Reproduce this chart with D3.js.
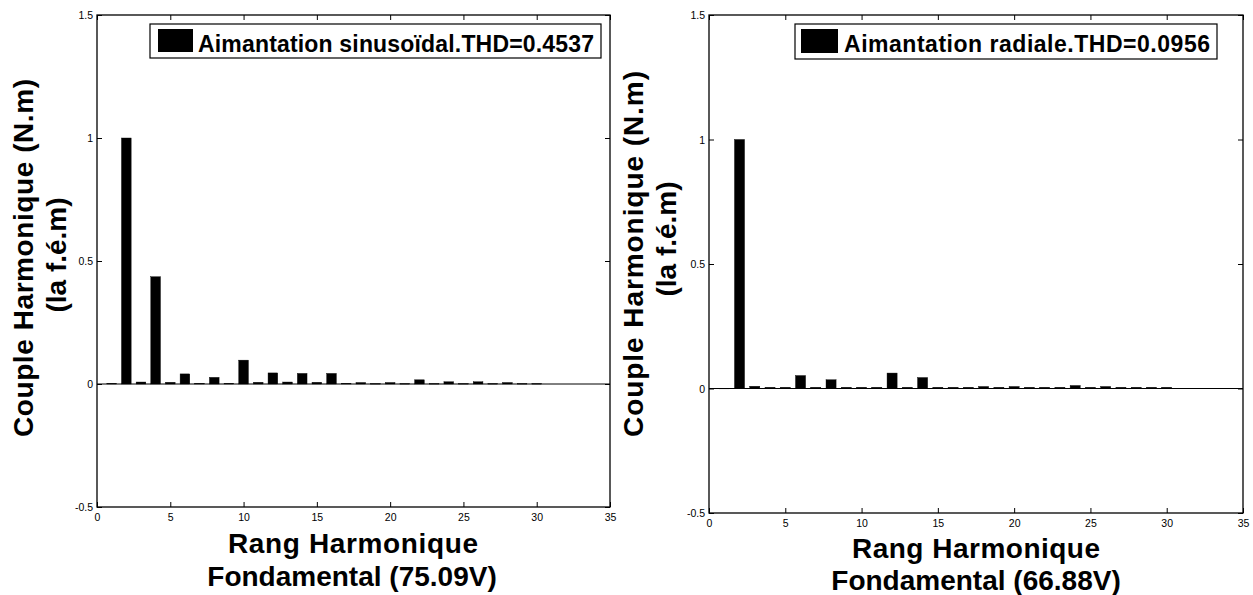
<!DOCTYPE html>
<html><head><meta charset="utf-8">
<script src="https://cdn.jsdelivr.net/npm/d3@7"></script>
<style>
html,body{margin:0;padding:0;background:#fff;}
svg{display:block;}
text{font-family:"Liberation Sans",Arial,Helvetica,sans-serif;fill:#000;}
</style></head>
<body>
<svg id="chart" width="1253" height="595"></svg>
<script>
// ---- data ----
const harmonics = [1,2,3,4,5,6,7,8,9,10,11,12,13,14,15,16,17,18,19,20,21,22,23,24,25,26,27,28,29,30];
const sinValues = [0.003,1.0,0.008,0.436,0.007,0.041,0.003,0.027,0.003,0.097,0.007,0.045,0.008,0.043,0.007,0.043,0.003,0.006,0.002,0.006,0.002,0.017,0.002,0.009,0.002,0.009,0.002,0.006,0.002,0.002];
const radValues = [0.001,1.0,0.009,0.005,0.005,0.052,0.005,0.035,0.005,0.005,0.005,0.062,0.005,0.044,0.005,0.005,0.005,0.008,0.005,0.008,0.005,0.005,0.005,0.012,0.005,0.008,0.005,0.005,0.005,0.005];
const xTickValues = [0,5,10,15,20,25,30,35];
const yTickValues = [-0.5,0,0.5,1,1.5];
const yTickLabels = ["-0.5","0","0.5","1","1.5"];
const xDomain = [0,35];
const yDomain = [-0.5,1.5];
const legendLabels = ["Aimantation sinusoïdal.THD=0.4537","Aimantation radiale.THD=0.0956"];
const yLabelLines = ["Couple Harmonique (N.m)","(la f.é.m)"];
const xLabelLine1 = "Rang Harmonique";
const xLabelLine2 = ["Fondamental (75.09V)","Fondamental (66.88V)"];

const svg = d3.select("#chart");

function panel(cfg){
  const g = svg.append("g");
  const x = d3.scaleLinear().domain(xDomain).range([cfg.x0,cfg.x1]);
  const y = d3.scaleLinear().domain(yDomain).range([cfg.y1,cfg.y0]);
  const bw = 0.66;

  // bars
  g.selectAll("rect.bar").data(harmonics.map((h,i)=>({h,v:cfg.values[i]})))
    .enter().append("rect").attr("class","bar")
    .attr("x",d=>x(d.h-bw/2)).attr("width",x(bw)-x(0))
    .attr("y",d=>y(Math.max(d.v,0))).attr("height",d=>Math.max(Math.abs(y(d.v)-y(0)),0.6))
    .attr("fill","#000").attr("stroke","#000").attr("stroke-width",0.4);

  // zero baseline
  g.append("line").attr("x1",cfg.x0).attr("x2",cfg.x1).attr("y1",y(0)).attr("y2",y(0))
    .attr("stroke","#000").attr("stroke-width",1);

  const tl = 5;
  const xb = d3.axisBottom(x).tickValues(xTickValues).tickSize(-tl).tickPadding(8).tickFormat(d3.format("d"));
  const gxb = g.append("g").attr("transform",`translate(0,${cfg.y1})`).call(xb);
  const xt = d3.axisTop(x).tickValues(xTickValues).tickSize(-tl).tickFormat("");
  const gxt = g.append("g").attr("transform",`translate(0,${cfg.y0})`).call(xt);
  const yl = d3.axisLeft(y).tickValues(yTickValues).tickSize(-tl).tickPadding(4)
    .tickFormat((d,i)=>yTickLabels[i]);
  const gyl = g.append("g").attr("transform",`translate(${cfg.x0},0)`).call(yl);
  const yr = d3.axisRight(y).tickValues(yTickValues).tickSize(-tl).tickFormat("");
  const gyr = g.append("g").attr("transform",`translate(${cfg.x1},0)`).call(yr);
  [gxb,gxt,gyl,gyr].forEach(a=>{
    a.select(".domain").remove();
    a.selectAll(".tick line").attr("stroke","#000").attr("stroke-width",1);
    a.selectAll("text").style("font-size","10.5px").attr("fill","#000");
  });
  gyl.selectAll(".tick text").attr("dy","0.36em");
  gxb.selectAll(".tick text").attr("dy","0.71em").attr("y",7);

  // box
  g.append("rect").attr("x",cfg.x0).attr("y",cfg.y0).attr("width",cfg.x1-cfg.x0).attr("height",cfg.y1-cfg.y0)
    .attr("fill","none").attr("stroke","#000").attr("stroke-width",1.3);

  // legend
  const L = cfg.legend;
  g.append("rect").attr("x",L.x).attr("y",L.y).attr("width",L.w).attr("height",L.h)
    .attr("fill","#fff").attr("stroke","#000").attr("stroke-width",1.2);
  g.append("rect").attr("x",L.sx).attr("y",L.y+5).attr("width",L.sw).attr("height",L.h-11)
    .attr("fill","#000");
  g.append("text").attr("x",L.tx).attr("y",L.y+28).text(cfg.legendText)
    .attr("textLength",L.tl).attr("lengthAdjust","spacing")
    .style("font-size","23px").style("font-weight","bold");

  // y label
  cfg.yLab.forEach((p,i)=>{
    const t = g.append("text").attr("transform",`translate(${p.bx},${p.cy}) rotate(-90)`)
      .attr("text-anchor","middle").text(yLabelLines[i])
      .style("font-size","28px").style("font-weight","bold");
    if(p.tl) t.attr("textLength",p.tl).attr("lengthAdjust","spacing");
  });
  // x label
  g.append("text").attr("x",cfg.xLabX[0]).attr("y",cfg.xLabY[0]).attr("text-anchor","middle")
    .attr("textLength",cfg.xLabTL).attr("lengthAdjust","spacing")
    .text(xLabelLine1).style("font-size","28px").style("font-weight","bold");
  g.append("text").attr("x",cfg.xLabX[1]).attr("y",cfg.xLabY[1]).attr("text-anchor","middle")
    .text(cfg.xLab2).style("font-size","28px").style("font-weight","bold");
}

panel({x0:97,x1:610,y0:15,y1:507,values:sinValues,legendText:legendLabels[0],
  legend:{x:150,y:24,w:451,h:34,sx:158,sw:35,tx:198,tl:396},
  yLab:[{bx:33,cy:258,tl:358},{bx:66,cy:255}], xLabX:[353,352], xLabY:[553,586], xLabTL:250,
  xLab2:xLabelLine2[0]});
panel({x0:709,x1:1243,y0:15,y1:513,values:radValues,legendText:legendLabels[1],
  legend:{x:795,y:24,w:422,h:35,sx:801,sw:37,tx:844,tl:366},
  yLab:[{bx:643,cy:254,tl:366},{bx:676,cy:239}], xLabX:[976,976], xLabY:[558,590], xLabTL:248,
  xLab2:xLabelLine2[1]});
</script>
</body></html>
